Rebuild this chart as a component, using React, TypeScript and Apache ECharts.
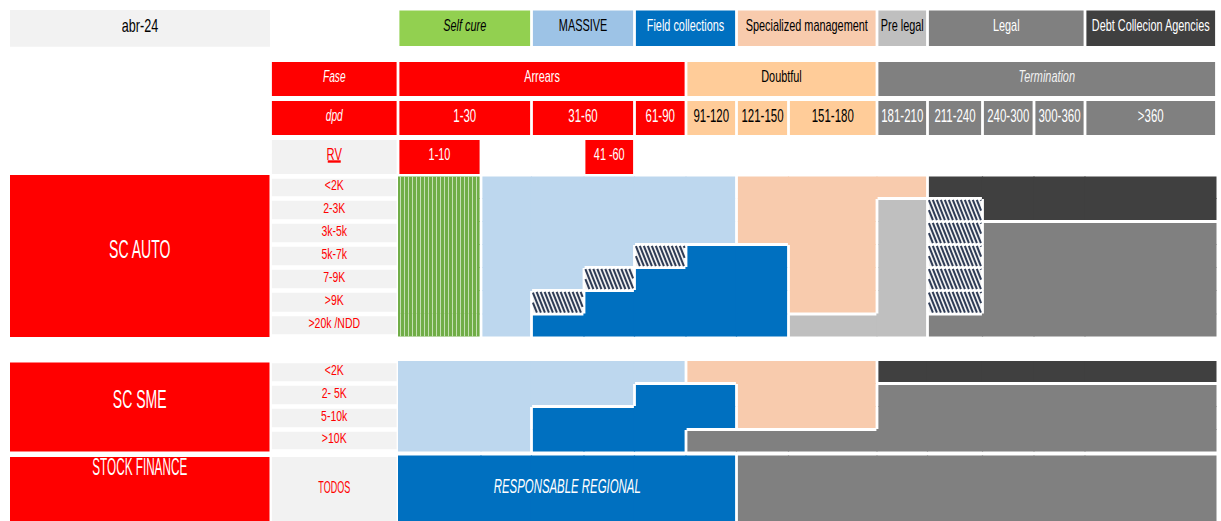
import React, { useEffect, useRef } from "react";
import * as echarts from "echarts";

// ---------------- data ----------------
const period = "abr-24";
const strategyNames = ["Self cure", "MASSIVE", "Field collections", "Specialized management", "Pre legal", "Legal", "Debt Collecion Agencies"];
const strategySpans = [[0, 1], [2, 3], [4, 5], [6, 7], [8, 8], [9, 11], [12, 12]];
const phaseLabel = "Fase";
const phaseNames = ["Arrears", "Doubtful", "Termination"];
const phaseSpans = [[0, 4], [5, 7], [8, 12]];
const dpdLabel = "dpd";
const dpdBuckets = ["1-30", "31-60", "61-90", "91-120", "121-150", "151-180", "181-210", "211-240", "240-300", "300-360", ">360"];
const dpdSpans = [[0, 1], [2, 3], [4, 4], [5, 5], [6, 6], [7, 7], [8, 8], [9, 9], [10, 10], [11, 11], [12, 12]];
const rvLabel = "RV";
const rvBuckets = ["1-10", "41 -60"];
const rvSpans = [[0, 0], [3, 3]];
const segmentNames = ["SC AUTO", "SC SME", "STOCK FINANCE"];
const autoBands = ["<2K", "2-3K", "3k-5k", "5k-7k", "7-9K", ">9K", ">20k /NDD"];
const smeBands = ["<2K", "2- 5K", "5-10k", ">10K"];
const stockBands = ["TODOS"];
// S self cure, M massive, F field collections, H hatched, E specialized, P pre legal, L legal, D agencies
const autoStrategy = [
  "SMMMMMEEEDDDD",
  "SMMMMMEEPHDDD",
  "SMMMMMEEPHLLL",
  "SMMMHFFEPHLLL",
  "SMMHFFFEPHLLL",
  "SMHFFFFEPHLLL",
  "SMFFFFFPPLLLL",
];
const smeStrategy = [
  "MMMMMEEEDDDDD",
  "MMMMFFEELLLLL",
  "MMFFFFEELLLLL",
  "MMFFFLLLLLLLL",
];
const stockStrategy = ["FFFFFFLLLLLLL"];
const stockNote = "RESPONSABLE REGIONAL";

// ---------------- layout ----------------
const W = 1221;
const H = 521;
const COL_EDGES = [398, 481, 531.5, 584, 634.5, 686, 736.5, 788.5, 877, 927.5, 982.5, 1034, 1085, 1216.5];
const SEG_X = [10, 269.5];
const LABEL_X = [270.5, 398];
const LEGEND_Y = [10.5, 46];
const PHASE_Y = [62, 96];
const DPD_Y = [101, 135];
const RV_Y = [140, 174];
const BLOCK_EDGES = [
  [176.5, 198.5, 221.5, 244.5, 267.5, 290.5, 314, 336.5],
  [361, 383.5, 406.5, 429.5, 451.5],
  [455.5, 524],
];
const SEG_Y = [[175, 337], [362.5, 451.5], [457, 524]];
const SEG_DY = [-7.5, -8, -23.5];
const HALF_GAP = 1.4;
const OVERLAP = 0.6;
const ROW_INSET = 2.3;
const TEXT_DY = -3;

// ---------------- style ----------------
const FONT = '"Liberation Sans", Arial, sans-serif';
const RED = "#FF0000";
const LABEL_BG = "#F2F2F2";
const STRAT_FILL: Record<string, string> = {
  S: "#70AD47", M: "#BDD7EE", F: "#0070C0", E: "#F8CBAD", P: "#BFBFBF", L: "#808080", D: "#404040", H: "#F2F2F2",
};
const LEGEND_FILL = ["#92D050", "#9DC3E6", "#0070C0", "#F8CBAD", "#BFBFBF", "#808080", "#404040"];
const LEGEND_INK = ["#000000", "#000000", "#FFFFFF", "#000000", "#000000", "#FFFFFF", "#FFFFFF"];
const PHASE_FILL = ["#FF0000", "#FFCC99", "#808080"];
const PHASE_INK = ["#FFFFFF", "#000000", "#F2F2F2"];

type Box = {
  x0: number; x1: number; y0: number; y1: number; fill: string;
  text?: string; ink?: string; italic?: boolean; fs?: number; sx?: number; dy?: number; underline?: number;
};

function spanBox(span: number[], ys: number[], fill: string, text: string, ink: string, fs: number, sx: number, italic = false): Box {
  return { x0: COL_EDGES[span[0]] + HALF_GAP, x1: COL_EDGES[span[1] + 1] - HALF_GAP, y0: ys[0], y1: ys[1], fill, text, ink, fs, sx, italic };
}
function labelBox(ys: number[], fill: string, text: string, ink: string, fs: number, sx: number, italic = false): Box {
  return { x0: LABEL_X[0] + HALF_GAP, x1: LABEL_X[1] - HALF_GAP, y0: ys[0], y1: ys[1], fill, text, ink, fs, sx, italic };
}
function phaseOf(col: number) {
  return phaseSpans.findIndex((s) => col >= s[0] && col <= s[1]);
}

const BLOCK_STRATEGY = [autoStrategy, smeStrategy, stockStrategy];
const BAND_SETS = [autoBands, smeBands, stockBands];

function buildBoxes(): Box[] {
  const boxes: Box[] = [];
  boxes.push({ x0: SEG_X[0], x1: SEG_X[1] + 0.5, y0: 10, y1: 46.7, fill: LABEL_BG, text: period, ink: "#000000", fs: 18, sx: 0.7 });
  strategyNames.forEach((n, i) =>
    boxes.push(spanBox(strategySpans[i], LEGEND_Y, LEGEND_FILL[i], n, LEGEND_INK[i], 17, 0.64, i === 0))
  );
  boxes.push(labelBox(PHASE_Y, RED, phaseLabel, "#FFFFFF", 17, 0.6, true));
  phaseNames.forEach((n, i) =>
    boxes.push(spanBox(phaseSpans[i], PHASE_Y, PHASE_FILL[i], n, PHASE_INK[i], 17, 0.64, i === 2))
  );
  boxes.push(labelBox(DPD_Y, RED, dpdLabel, "#FFFFFF", 17, 0.6, true));
  dpdBuckets.forEach((n, i) => {
    const ph = phaseOf(dpdSpans[i][0]);
    boxes.push(spanBox(dpdSpans[i], DPD_Y, PHASE_FILL[ph], n, ph === 1 ? "#000000" : "#FFFFFF", 18.5, 0.62));
  });
  boxes.push({ ...labelBox(RV_Y, LABEL_BG, rvLabel, RED, 16, 0.7), underline: 13 });
  rvBuckets.forEach((n, i) => boxes.push(spanBox(rvSpans[i], RV_Y, RED, n, "#FFFFFF", 17, 0.64)));
  segmentNames.forEach((n, bi) => {
    boxes.push({
      x0: SEG_X[0], x1: SEG_X[1], y0: SEG_Y[bi][0], y1: SEG_Y[bi][1], fill: RED, text: n, ink: "#FFFFFF",
      fs: bi === 2 ? 23 : 26, sx: bi === 2 ? 0.51 : 0.54, dy: SEG_DY[bi],
    });
    const edges = BLOCK_EDGES[bi];
    BAND_SETS[bi].forEach((band, ri) => {
      if (bi === 2) {
        boxes.push({ ...labelBox(SEG_Y[bi], LABEL_BG, band, RED, 17, 0.53), dy: -3.5 });
      } else {
        boxes.push({ ...labelBox([edges[ri] + ROW_INSET, edges[ri + 1] - ROW_INSET], LABEL_BG, band, RED, 15, 0.7), dy: -2.5 });
      }
    });
  });
  return boxes;
}
const BOXES = buildBoxes();

function buildNotes(): Box[] {
  const row = stockStrategy[0];
  const first = row.indexOf("F");
  const last = row.lastIndexOf("F");
  const e = BLOCK_EDGES[2];
  return [{
    x0: COL_EDGES[first], x1: COL_EDGES[last + 1], y0: e[0], y1: e[1], fill: "none",
    text: stockNote, ink: "#FFFFFF", fs: 19.5, sx: 0.585, italic: true,
  }];
}
const NOTES = buildNotes();

function renderBox(list: Box[]) {
  return (params: any, api: any) => {
    const b = list[api.value(4)];
    const a = api.coord([api.value(0), api.value(1)]);
    const c = api.coord([api.value(2), api.value(3)]);
    const children: any[] = [];
    if (b.fill !== "none") {
      children.push({ type: "rect", shape: { x: a[0], y: a[1], width: c[0] - a[0], height: c[1] - a[1] }, style: { fill: b.fill } });
    }
    if (b.text) {
      const cx = (a[0] + c[0]) / 2;
      const cy = (a[1] + c[1]) / 2 + (b.dy ?? TEXT_DY);
      children.push({
        type: "text", x: cx, y: cy, scaleX: b.sx ?? 1,
        style: {
          text: b.text, fill: b.ink, fontSize: b.fs, fontFamily: FONT,
          fontStyle: b.italic ? "italic" : "normal", align: "center", verticalAlign: "middle",
        },
      });
      if (b.underline) {
        children.push({ type: "rect", shape: { x: cx - b.underline / 2, y: cy + 6.3, width: b.underline, height: 2.4 }, style: { fill: b.ink } });
      }
    }
    return { type: "group", children };
  };
}

function buildBodyData() {
  const out: number[][] = [];
  BLOCK_STRATEGY.forEach((grid, bi) =>
    grid.forEach((row, ri) => row.split("").forEach((_, ci) => out.push([ci, ri, bi])))
  );
  return out;
}

function renderBody(params: any, api: any) {
  const ci = api.value(0);
  const ri = api.value(1);
  const bi = api.value(2);
  const grid = BLOCK_STRATEGY[bi];
  const edges = BLOCK_EDGES[bi];
  const code = grid[ri][ci];
  const at = (r: number, c: number) => (r >= 0 && r < grid.length && c >= 0 && c < grid[r].length ? grid[r][c] : null);
  // positive: inset (separator), negative: overlap into same-strategy neighbour, 0: block border
  const adj = (n: string | null) => (n === null ? 0 : n !== code || code === "H" ? HALF_GAP : -OVERLAP);
  const a = api.coord([COL_EDGES[ci] + adj(at(ri, ci - 1)), edges[ri] + adj(at(ri - 1, ci))]);
  const b = api.coord([COL_EDGES[ci + 1] - adj(at(ri, ci + 1)), edges[ri + 1] - adj(at(ri + 1, ci))]);
  const x = a[0], y = a[1], w = b[0] - a[0], h = b[1] - a[1];
  const children: any[] = [{ type: "rect", shape: { x, y, width: w, height: h }, style: { fill: STRAT_FILL[code] } }];
  if (code === "S") {
    const x0 = api.coord([COL_EDGES[ci], 0])[0];
    for (let lx = x0 + 2.5; lx < x + w - 1; lx += 4) {
      children.push({ type: "line", shape: { x1: lx, y1: y, x2: lx, y2: y + h }, style: { stroke: "#C5E0B4", lineWidth: 1 } });
    }
  }
  if (code === "H") {
    const k = 2.5;
    for (let c = x - h / k; c < x + w; c += 4) {
      const xs = Math.max(x, c);
      const xe = Math.min(x + w, c + h / k);
      if (xe > xs) {
        children.push({
          type: "line",
          shape: { x1: xs, y1: y + k * (xs - c), x2: xe, y2: y + k * (xe - c) },
          style: { stroke: "#2F3C56", lineWidth: 2 },
        });
      }
    }
  }
  return { type: "group", children };
}

export default function App() {
  const ref = useRef<HTMLDivElement>(null);
  useEffect(() => {
    const chart = echarts.init(ref.current!, undefined, { renderer: "svg" });
    chart.setOption({
      animation: false,
      grid: { left: 0, right: 0, top: 0, bottom: 0 },
      xAxis: { type: "value", min: 0, max: W, show: false },
      yAxis: { type: "value", min: 0, max: H, inverse: true, show: false },
      series: [
        {
          type: "custom", coordinateSystem: "cartesian2d", z: 2, silent: true,
          data: BOXES.map((b, i) => [b.x0, b.y0, b.x1, b.y1, i]),
          renderItem: renderBox(BOXES),
        },
        {
          type: "custom", coordinateSystem: "cartesian2d", z: 2, silent: true,
          data: buildBodyData(),
          renderItem: renderBody,
        },
        {
          type: "custom", coordinateSystem: "cartesian2d", z: 3, silent: true,
          data: NOTES.map((b, i) => [b.x0, b.y0, b.x1, b.y1, i]),
          renderItem: renderBox(NOTES),
        },
      ],
    });
    return () => chart.dispose();
  }, []);
  return <div ref={ref} style={{ position: "fixed", left: 0, top: 0, width: W, height: H, background: "#FFFFFF" }} />;
}
